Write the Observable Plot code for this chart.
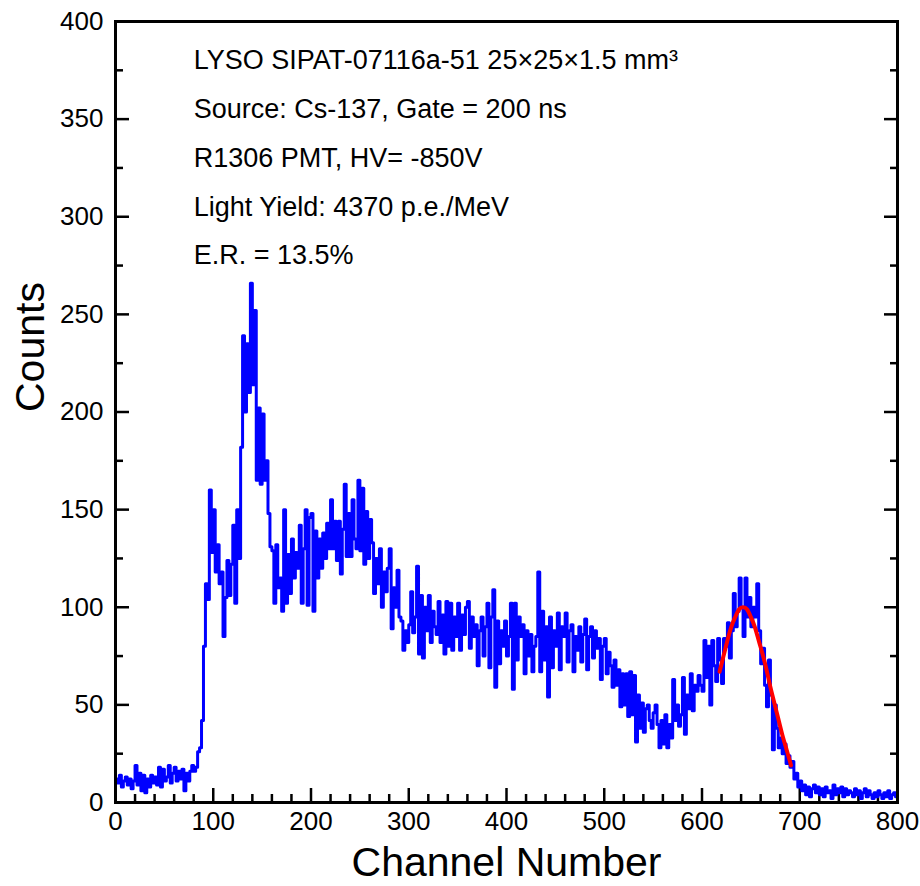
<!DOCTYPE html>
<html>
<head>
<meta charset="utf-8">
<script src="https://cdn.jsdelivr.net/npm/d3@7"></script>
<script src="https://cdn.jsdelivr.net/npm/@observablehq/plot@0.6"></script>
<style>
  html, body { margin: 0; padding: 0; background: #fff; }
</style>
</head>
<body>
<div id="chart"></div>
<script>
// Histogram: bin width 2 channels, first bin starts at channel 0
const binWidth = 2;
const counts = [
  12, 10, 14, 8, 11, 13, 9, 12, 7, 11,          // 0-18
  19, 9, 15, 6, 14, 5, 12, 8, 14, 10,           // 20-38
  13, 9, 18, 8, 17, 11, 13, 19, 10, 15,         // 40-58
  18, 11, 16, 12, 17, 6, 15, 11, 16, 19,        // 60-78
  16, 18, 26, 28, 42, 80, 112, 104, 160, 128,   // 80-98
  150, 118, 132, 112, 118, 85, 105, 124, 106, 122, // 100-118
  142, 102, 150, 125, 182, 239, 200, 235, 210, 266, // 120-138
  214, 252, 165, 202, 163, 199, 165, 175, 148, 131, // 140-158
  129, 102, 132, 110, 115, 98, 150, 102, 127, 107,  // 160-178
  135, 115, 128, 120, 142, 102, 130, 150, 101, 146, // 180-198
  148, 98, 139, 115, 135, 120, 138, 125, 143, 130,  // 200-218
  155, 130, 144, 124, 144, 117, 140, 163, 126, 148, // 220-238
  126, 155, 135, 130, 165, 129, 161, 122, 149, 125, // 240-258
  145, 133, 107, 125, 112, 130, 100, 118, 108, 120, // 260-278
  130, 89, 110, 100, 119, 95, 93, 78, 88, 82,       // 280-298
  91, 108, 87, 95, 121, 76, 106, 74, 100, 88,       // 300-318
  106, 82, 98, 90, 86, 103, 82, 96, 76, 103,        // 320-338
  80, 102, 78, 95, 85, 102, 78, 96, 86, 100,        // 340-358
  103, 79, 95, 85, 91, 70, 88, 95, 75, 90,          // 360-378
  102, 69, 95, 109, 59, 93, 71, 88, 80, 93,         // 380-398
  75, 85, 102, 58, 102, 73, 95, 85, 91, 66,         // 400-418
  88, 75, 86, 67, 80, 85, 118, 67, 98, 73,          // 420-438
  90, 54, 95, 69, 88, 80, 97, 68, 90, 85,           // 440-458
  97, 72, 88, 91, 67, 85, 78, 90, 72, 86,           // 460-478
  94, 68, 85, 90, 74, 88, 79, 84, 63, 80,           // 480-498
  84, 66, 77, 70, 59, 73, 60, 68, 49, 66,           // 500-518
  50, 66, 44, 67, 45, 65, 31, 55, 38, 51,           // 520-538
  36, 48, 50, 42, 38, 46, 50, 40, 28, 42,           // 540-558
  30, 45, 28, 40, 33, 63, 42, 50, 39, 45,           // 560-578
  64, 35, 55, 48, 66, 47, 60, 57, 65, 60,           // 580-598
  57, 83, 64, 80, 50, 83, 70, 62, 84, 73,           // 600-618
  61, 84, 80, 92, 74, 88, 107, 90, 98, 115,         // 620-638
  100, 85, 115, 95, 105, 90, 100, 95, 112, 88,      // 640-658
  71, 79, 60, 49, 73, 55, 27, 50, 38, 28,           // 660-678
  33, 25, 30, 20, 24, 18, 21, 12, 15, 8,            // 680-698
  11, 6, 9, 4, 8, 3, 7, 9, 5, 8,                    // 700-718
  4, 7, 3, 8, 5, 6, 2, 9, 4, 7,                     // 720-738
  5, 8, 3, 7, 4, 6, 5, 3, 7, 4,                     // 740-758
  6, 2, 5, 7, 3, 6, 4, 2, 5, 3,                     // 760-778
  6, 4, 2, 5, 3, 6, 2, 4, 5, 3                      // 780-798
];
const channels = counts.map((_, i) => i * binWidth);

// Gaussian fit of the photopeak (red)
const fitChannels = [618, 622, 626, 630, 634, 638, 642, 646, 650, 654, 658, 662, 666, 670, 674, 678, 682, 686, 690, 691];
const fitCounts   = [67, 75, 83, 90, 95, 99, 100, 99, 95, 90, 83, 76, 68, 59, 51, 43, 35, 28, 21, 19];

const xTicks = [0, 100, 200, 300, 400, 500, 600, 700, 800];
const xMinor = [20, 40, 60, 80, 120, 140, 160, 180, 220, 240, 260, 280, 320, 340, 360, 380,
                420, 440, 460, 480, 520, 540, 560, 580, 620, 640, 660, 680, 720, 740, 760, 780];
const yTicks = [0, 50, 100, 150, 200, 250, 300, 350, 400];
const yMinor = [25, 75, 125, 175, 225, 275, 325, 375];

const noteLines = [
  "LYSO SIPAT-07116a-51 25×25×1.5 mm³",
  "Source: Cs-137, Gate = 200 ns",
  "R1306 PMT, HV= -850V",
  "Light Yield: 4370 p.e./MeV",
  "E.R. = 13.5%"
];
const noteX = 80;
const noteY = [380, 355, 330, 305, 280];

const spectrum = channels.map((c, i) => ({channel: c, count: counts[i]}));
const fit = fitChannels.map((c, i) => ({channel: c, count: fitCounts[i]}));
const notes = noteLines.map((t, i) => ({text: t, x: noteX, y: noteY[i]}));

const tickStyle = {text: null, label: null, strokeWidth: 2.5};

const chart = Plot.plot({
  width: 920,
  height: 886,
  marginLeft: 115,
  marginRight: 23,
  marginTop: 21,
  marginBottom: 84,
  style: {fontFamily: "'Liberation Sans', Arial, Helvetica, sans-serif", background: "#fff", color: "#000"},
  x: {domain: [0, 800]},
  y: {domain: [0, 400]},
  marks: [
    Plot.axisX(xTicks, {tickSize: 0, tickPadding: 9, fontSize: 26, label: null}),
    Plot.axisX(xTicks, {...tickStyle, tickSize: -14}),
    Plot.axisX(xMinor, {...tickStyle, tickSize: -8}),
    Plot.axisY(yTicks, {tickSize: 0, tickPadding: 12, fontSize: 26, label: null}),
    Plot.axisY(yTicks, {...tickStyle, tickSize: -14}),
    Plot.axisY(yMinor, {...tickStyle, tickSize: -8}),
    Plot.axisY(yTicks, {...tickStyle, anchor: "right", tickSize: -14}),
    Plot.axisY(yMinor, {...tickStyle, anchor: "right", tickSize: -8}),
    Plot.line(spectrum, {x: "channel", y: "count", curve: "step-after", stroke: "#0000ff", strokeWidth: 3}),
    Plot.line(fit, {x: "channel", y: "count", curve: "natural", stroke: "#ff0000", strokeWidth: 4}),
    Plot.frame({stroke: "#000", strokeWidth: 3}),
    Plot.text(notes, {x: "x", y: "y", text: "text", textAnchor: "start", fontSize: 27, fill: "#000"}),
    Plot.text(["Channel Number"], {frameAnchor: "bottom", lineAnchor: "middle", dy: 60, fontSize: 41, fill: "#000"}),
    Plot.text(["Counts"], {frameAnchor: "left", lineAnchor: "middle", dx: -85, rotate: -90, fontSize: 41, fill: "#000"})
  ]
});
document.getElementById("chart").appendChild(chart);
</script>
</body>
</html>
